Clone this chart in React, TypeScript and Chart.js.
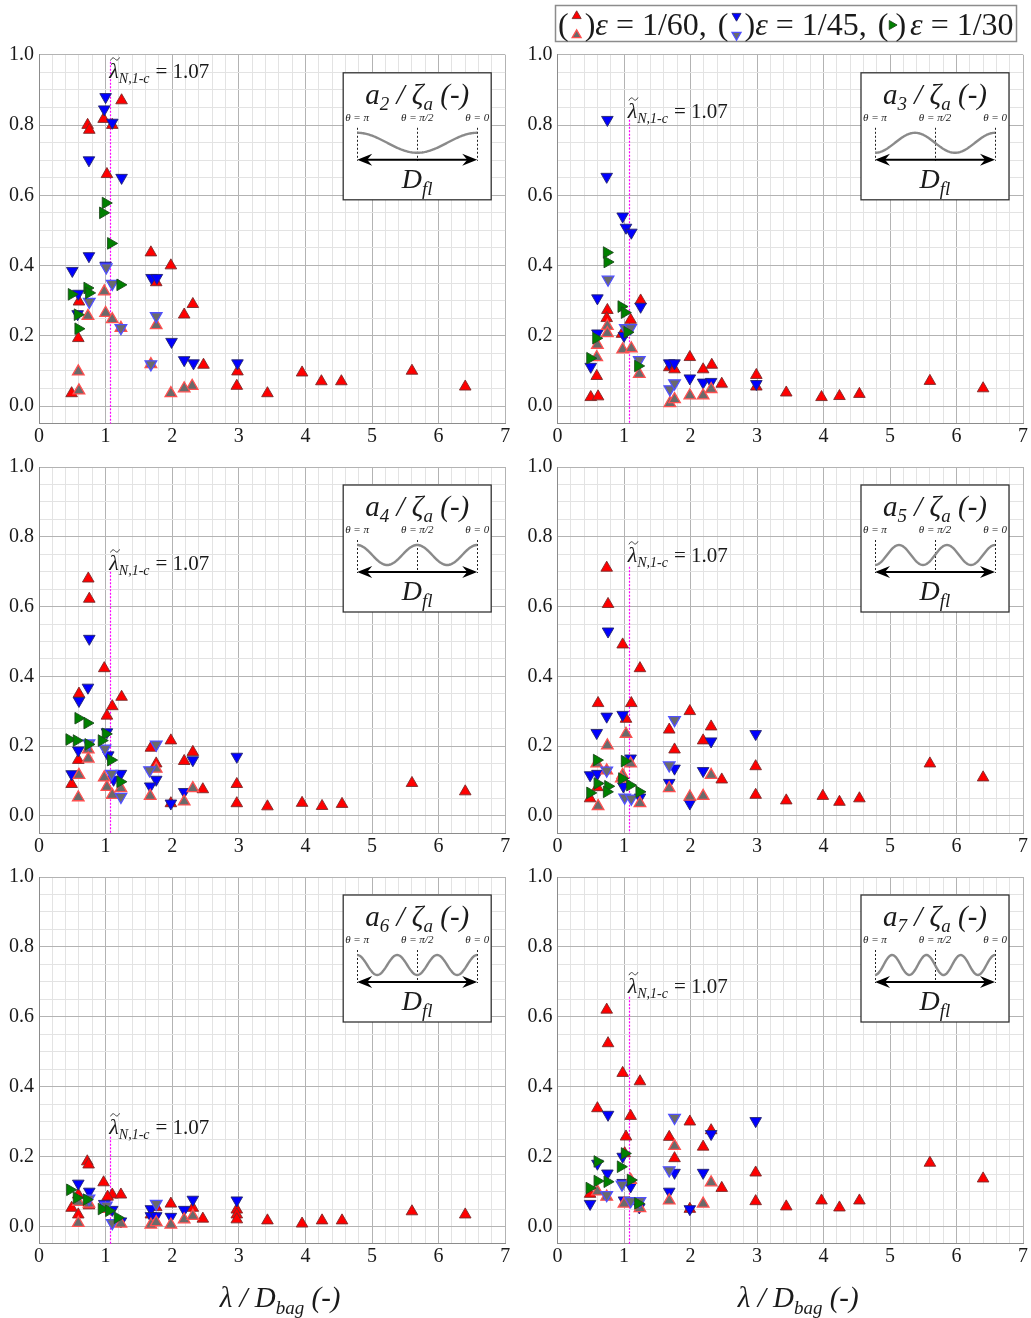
import { useEffect, useRef } from 'react';
import { Chart, registerables } from 'chart.js';
import { drawPoint } from 'chart.js/helpers';

Chart.register(...registerables);

type Pt = [number, number];

// ---------- axis values ----------
const xMin = 0;
const xMax = 7;
const yMin = -0.05;
const yMax = 1.0;
const xMinorStep = 0.2;
const yMinorStep = 0.05;
const yMajorStep = 0.2;
const lambdaCrit = 1.07;
const epsilonLabels = ['1/60', '1/45', '1/30'];

// ---------- a2 / zeta_a ----------
const a2Red: Pt[] = [[0.73, 0.8], [0.755, 0.786], [0.97, 0.817], [1.1, 0.8], [1.24, 0.87], [1.02, 0.66], [1.68, 0.437], [1.98, 0.4], [1.76, 0.352], [0.6, 0.297], [2.31, 0.29], [2.18, 0.26], [0.59, 0.193], [2.47, 0.117], [2.98, 0.098], [2.97, 0.057], [0.49, 0.036], [3.43, 0.036], [3.95, 0.095], [4.24, 0.07], [4.54, 0.07], [5.6, 0.1], [6.4, 0.055]];
const a2RedGrey: Pt[] = [[0.98, 0.326], [0.735, 0.256], [1.0, 0.265], [1.1, 0.247], [1.76, 0.23], [1.23, 0.222], [1.68, 0.119], [0.59, 0.098], [2.3, 0.057], [2.18, 0.05], [1.98, 0.036], [0.6, 0.044]];
const a2Blue: Pt[] = [[1.0, 0.88], [0.98, 0.845], [1.1, 0.807], [0.75, 0.7], [1.24, 0.65], [0.75, 0.427], [1.0, 0.4], [0.5, 0.385], [1.69, 0.365], [1.77, 0.365], [0.59, 0.32], [0.58, 0.262], [1.99, 0.183], [2.18, 0.131], [2.32, 0.122], [2.98, 0.122]];
const a2BlueGrey: Pt[] = [[1.01, 0.395], [1.1, 0.348], [0.755, 0.297], [1.76, 0.256], [1.23, 0.222], [1.68, 0.119]];
const a2Green: Pt[] = [[1.0, 0.578], [0.96, 0.55], [1.08, 0.463], [1.22, 0.345], [0.49, 0.318], [0.725, 0.336], [0.75, 0.322], [0.58, 0.26], [0.59, 0.22]];

// ---------- a3 / zeta_a ----------
const a3Red: Pt[] = [[1.25, 0.3], [0.75, 0.273], [0.74, 0.25], [1.1, 0.245], [0.97, 0.205], [0.59, 0.085], [1.68, 0.11], [1.76, 0.104], [1.99, 0.139], [2.19, 0.104], [2.32, 0.117], [2.47, 0.063], [0.5, 0.025], [0.61, 0.027], [2.99, 0.088], [2.99, 0.055], [3.44, 0.038], [3.97, 0.025], [4.24, 0.028], [4.54, 0.034], [5.6, 0.071], [6.4, 0.05]];
const a3RedGrey: Pt[] = [[0.75, 0.228], [0.75, 0.207], [0.6, 0.174], [0.98, 0.161], [1.11, 0.164], [0.59, 0.139], [1.23, 0.091], [1.69, 0.008], [1.76, 0.019], [1.99, 0.03], [2.19, 0.03], [2.31, 0.048]];
const a3Blue: Pt[] = [[0.75, 0.815], [0.74, 0.653], [0.98, 0.54], [1.03, 0.508], [1.11, 0.494], [0.6, 0.307], [1.25, 0.283], [0.6, 0.207], [1.0, 0.2], [0.5, 0.112], [1.68, 0.122], [1.76, 0.122], [1.99, 0.079], [2.19, 0.067], [2.31, 0.069], [2.99, 0.063]];
const a3BlueGrey: Pt[] = [[0.76, 0.36], [1.02, 0.222], [1.1, 0.222], [1.23, 0.131], [1.69, 0.048], [1.76, 0.065]];
const a3Green: Pt[] = [[0.74, 0.437], [0.75, 0.41], [0.96, 0.283], [1.01, 0.266], [1.05, 0.21], [0.58, 0.193], [0.49, 0.136], [1.21, 0.114]];

// ---------- a4 / zeta_a ----------
const a4Red: Pt[] = [[0.74, 0.68], [0.755, 0.622], [0.98, 0.423], [0.6, 0.35], [1.24, 0.341], [1.1, 0.314], [1.02, 0.287], [0.59, 0.16], [1.68, 0.195], [1.98, 0.216], [2.31, 0.183], [2.18, 0.157], [1.76, 0.15], [0.49, 0.091], [2.46, 0.076], [2.97, 0.091], [2.97, 0.036], [1.98, 0.036], [3.43, 0.027], [3.95, 0.037], [4.25, 0.028], [4.55, 0.034], [5.6, 0.094], [6.4, 0.07]];
const a4RedGrey: Pt[] = [[0.74, 0.19], [0.74, 0.164], [1.76, 0.135], [1.67, 0.057], [0.6, 0.117], [0.59, 0.053], [0.98, 0.11], [1.02, 0.083], [1.1, 0.06], [1.23, 0.079], [2.31, 0.079], [2.18, 0.041]];
const a4Blue: Pt[] = [[0.755, 0.508], [0.735, 0.368], [0.6, 0.33], [1.02, 0.24], [0.59, 0.188], [1.04, 0.174], [2.31, 0.16], [2.97, 0.17], [1.76, 0.104], [1.67, 0.085], [0.49, 0.12], [1.12, 0.104], [1.23, 0.121], [2.18, 0.069], [1.98, 0.036]];
const a4BlueGrey: Pt[] = [[0.75, 0.208], [0.99, 0.193], [1.76, 0.205], [1.66, 0.131], [1.09, 0.121], [1.23, 0.055]];
const a4Green: Pt[] = [[0.59, 0.28], [0.725, 0.266], [1.0, 0.235], [0.455, 0.219], [0.565, 0.216], [0.74, 0.205], [0.94, 0.216], [1.08, 0.16], [1.22, 0.098]];

// ---------- a5 / zeta_a ----------
const a5Red: Pt[] = [[0.74, 0.711], [0.76, 0.607], [0.98, 0.491], [1.24, 0.423], [0.61, 0.323], [1.11, 0.323], [1.03, 0.278], [1.68, 0.247], [1.99, 0.3], [2.31, 0.256], [2.19, 0.216], [1.76, 0.19], [2.98, 0.142], [2.47, 0.104], [0.6, 0.082], [0.49, 0.05], [2.98, 0.06], [3.44, 0.044], [3.99, 0.057], [4.24, 0.04], [4.54, 0.05], [5.6, 0.15], [6.4, 0.11]];
const a5RedGrey: Pt[] = [[1.03, 0.235], [0.75, 0.202], [1.1, 0.15], [0.59, 0.15], [0.74, 0.13], [0.98, 0.117], [0.96, 0.107], [1.24, 0.036], [0.61, 0.028], [1.68, 0.079], [1.99, 0.055], [2.19, 0.057], [2.31, 0.117]];
const a5Blue: Pt[] = [[0.76, 0.529], [0.74, 0.285], [0.98, 0.29], [0.59, 0.238], [2.31, 0.214], [2.98, 0.235], [1.1, 0.165], [1.76, 0.136], [2.19, 0.129], [0.49, 0.117], [0.6, 0.121], [0.99, 0.085], [1.24, 0.053], [1.68, 0.095], [1.99, 0.036]];
const a5BlueGrey: Pt[] = [[1.76, 0.275], [1.68, 0.145], [0.74, 0.13], [1.01, 0.053], [1.11, 0.05]];
const a5Green: Pt[] = [[0.59, 0.16], [1.01, 0.157], [0.97, 0.107], [1.09, 0.088], [0.6, 0.093], [0.76, 0.085], [0.74, 0.069], [0.49, 0.066], [1.23, 0.069]];

// ---------- a6 / zeta_a ----------
const a6Red: Pt[] = [[0.725, 0.186], [0.745, 0.177], [0.97, 0.126], [1.1, 0.091], [1.23, 0.091], [1.03, 0.085], [0.59, 0.091], [0.49, 0.053], [0.59, 0.034], [0.75, 0.06], [1.68, 0.034], [1.76, 0.055], [1.98, 0.065], [2.31, 0.053], [2.46, 0.022], [2.97, 0.048], [2.97, 0.034], [2.97, 0.02], [3.43, 0.017], [3.95, 0.008], [4.25, 0.017], [4.55, 0.017], [5.6, 0.043], [6.4, 0.034]];
const a6RedGrey: Pt[] = [[0.59, 0.07], [0.75, 0.065], [0.59, 0.01], [1.23, 0.008], [1.68, 0.005], [1.76, 0.012], [1.98, 0.005], [2.18, 0.02], [2.31, 0.03], [1.0, 0.05]];
const a6Blue: Pt[] = [[0.59, 0.123], [0.755, 0.1], [0.98, 0.065], [1.1, 0.048], [1.23, 0.015], [1.68, 0.05], [1.68, 0.03], [1.76, 0.03], [1.98, 0.028], [2.31, 0.077], [2.18, 0.048], [2.97, 0.075]];
const a6BlueGrey: Pt[] = [[1.01, 0.06], [1.1, 0.01], [1.76, 0.065], [0.75, 0.08]];
const a6Green: Pt[] = [[0.465, 0.105], [0.565, 0.082], [0.715, 0.077], [0.94, 0.05], [1.18, 0.025], [1.05, 0.045]];

// ---------- a7 / zeta_a ----------
const a7Red: Pt[] = [[0.74, 0.62], [0.76, 0.524], [0.98, 0.439], [1.24, 0.415], [0.6, 0.338], [1.1, 0.316], [1.99, 0.3], [2.31, 0.275], [1.03, 0.257], [1.68, 0.256], [2.19, 0.228], [1.76, 0.195], [2.98, 0.154], [2.47, 0.11], [0.49, 0.093], [2.98, 0.072], [1.99, 0.05], [3.44, 0.057], [3.97, 0.074], [4.24, 0.054], [4.54, 0.074], [5.6, 0.182], [6.4, 0.137], [1.01, 0.209]];
const a7RedGrey: Pt[] = [[1.76, 0.23], [1.1, 0.133], [2.31, 0.126], [0.6, 0.1], [1.68, 0.074], [2.19, 0.065], [0.74, 0.085], [1.0, 0.065], [1.24, 0.052]];
const a7Blue: Pt[] = [[0.76, 0.32], [2.98, 0.302], [2.31, 0.265], [0.98, 0.2], [0.6, 0.18], [1.76, 0.154], [2.19, 0.154], [0.75, 0.152], [0.98, 0.125], [1.1, 0.115], [0.49, 0.065], [1.68, 0.1], [1.0, 0.075], [1.23, 0.055], [1.99, 0.05]];
const a7BlueGrey: Pt[] = [[1.76, 0.311], [1.68, 0.161], [0.97, 0.12], [0.74, 0.09], [1.1, 0.073], [1.24, 0.073]];
const a7Green: Pt[] = [[1.01, 0.209], [0.6, 0.186], [0.95, 0.171], [1.1, 0.133], [0.48, 0.11], [0.6, 0.13], [0.75, 0.128], [1.21, 0.066]];

// where the critical-wavelength marker starts and where its label sits (in y units)
const modeNumbers = [2, 3, 4, 5, 6, 7];
const critLineTop = [0.98, 0.815, 0.7, 0.714, 0.257, 0.657];
const critLabelBase = [0.934, 0.82, 0.705, 0.728, 0.265, 0.669];

interface PanelSpec {
  idx: number;
  n: number;
  red: Pt[];
  redGrey: Pt[];
  blue: Pt[];
  blueGrey: Pt[];
  green: Pt[];
}

const PANELS: PanelSpec[] = [
  { idx: 0, n: modeNumbers[0], red: a2Red, redGrey: a2RedGrey, blue: a2Blue, blueGrey: a2BlueGrey, green: a2Green },
  { idx: 1, n: modeNumbers[1], red: a3Red, redGrey: a3RedGrey, blue: a3Blue, blueGrey: a3BlueGrey, green: a3Green },
  { idx: 2, n: modeNumbers[2], red: a4Red, redGrey: a4RedGrey, blue: a4Blue, blueGrey: a4BlueGrey, green: a4Green },
  { idx: 3, n: modeNumbers[3], red: a5Red, redGrey: a5RedGrey, blue: a5Blue, blueGrey: a5BlueGrey, green: a5Green },
  { idx: 4, n: modeNumbers[4], red: a6Red, redGrey: a6RedGrey, blue: a6Blue, blueGrey: a6BlueGrey, green: a6Green },
  { idx: 5, n: modeNumbers[5], red: a7Red, redGrey: a7RedGrey, blue: a7Blue, blueGrey: a7BlueGrey, green: a7Green },
];

// ---------- layout ----------
const COLS = [
  { canvasLeft: 0, width: 520, areaLeft: 39, areaRight: 505.2 },
  { canvasLeft: 520, width: 511, areaLeft: 557.5, areaRight: 1023.7 },
];
const ROWS = [
  { canvasTop: 0, height: 450, areaTop: 54.8 },
  { canvasTop: 450, height: 410, areaTop: 464.6 },
  { canvasTop: 860, height: 458, areaTop: 875.2 },
];
const AREA_H = 351.2 * (yMax - yMin);

const SERIF = '"Liberation Serif", "Times New Roman", Times, serif';
const TEXT = '#1a1a1a';

type StyleKey = 'red' | 'redGrey' | 'blue' | 'blueGrey' | 'green';
const MARK: Record<StyleKey, { rot: number; bg: string; bd: string; bw: number }> = {
  red: { rot: 0, bg: '#ff0000', bd: '#7a2a2a', bw: 0.9 },
  redGrey: { rot: 0, bg: '#6a6a6a', bd: '#ff5050', bw: 1.3 },
  blue: { rot: 180, bg: '#0000ff', bd: '#25256e', bw: 0.9 },
  blueGrey: { rot: 180, bg: '#6a6a6a', bd: '#5050ff', bw: 1.3 },
  green: { rot: 90, bg: '#008000', bd: '#1d4a1d', bw: 0.9 },
};
const MARK_R = 6.7;

// ---------- text helpers ----------
interface Run { t: string; size: number; italic?: boolean; dy?: number; gap?: number }
const fontOf = (r: Run) => `${r.italic ? 'italic ' : ''}${r.size}px ${SERIF}`;

function drawRuns(ctx: CanvasRenderingContext2D, runs: Run[], x: number, y: number, align: 'left' | 'center' | 'right') {
  const widths = runs.map((r) => {
    ctx.font = fontOf(r);
    return ctx.measureText(r.t).width + (r.gap || 0);
  });
  const total = widths.reduce((a, b) => a + b, 0);
  let cx = align === 'left' ? x : align === 'center' ? x - total / 2 : x - total;
  const starts: number[] = [];
  ctx.textBaseline = 'alphabetic';
  ctx.textAlign = 'left';
  runs.forEach((r, i) => {
    ctx.font = fontOf(r);
    starts.push(cx);
    ctx.fillText(r.t, cx, y + (r.dy || 0));
    cx += widths[i];
  });
  return { starts, widths, end: cx };
}

function drawTilde(ctx: CanvasRenderingContext2D, cx: number, cy: number, w: number) {
  ctx.beginPath();
  ctx.moveTo(cx - w / 2, cy + 1.5);
  ctx.bezierCurveTo(cx - w / 4, cy - 2.5, cx - w / 8, cy - 1, cx, cy);
  ctx.bezierCurveTo(cx + w / 8, cy + 1, cx + w / 4, cy + 2.5, cx + w / 2, cy - 1.5);
  ctx.stroke();
}

function marker(ctx: CanvasRenderingContext2D, key: StyleKey, x: number, y: number, r: number) {
  const m = MARK[key];
  ctx.save();
  ctx.fillStyle = m.bg;
  ctx.strokeStyle = m.bd;
  ctx.lineWidth = m.bw;
  drawPoint(ctx, { pointStyle: 'triangle', rotation: m.rot, radius: r, borderWidth: m.bw } as any, x, y);
  ctx.restore();
}

function drawInset(ctx: CanvasRenderingContext2D, n: number, areaRight: number, areaTop: number) {
  const bw = 148;
  const bh = 127;
  const bx = areaRight - bw - 14;
  const by = areaTop + 18;
  const cx = bx + bw / 2;
  const half = 60;
  ctx.save();
  ctx.fillStyle = '#ffffff';
  ctx.fillRect(bx, by, bw, bh);
  ctx.strokeStyle = '#333';
  ctx.lineWidth = 1.3;
  ctx.strokeRect(bx, by, bw, bh);

  ctx.fillStyle = TEXT;
  drawRuns(ctx, [
    { t: 'a', size: 29, italic: true },
    { t: String(n), size: 19, italic: true, dy: 6 },
    { t: ' / ', size: 29, italic: true },
    { t: 'ζ', size: 29, italic: true },
    { t: 'a', size: 19, italic: true, dy: 6 },
    { t: ' (-)', size: 29, italic: true },
  ], cx, by + 31, 'center');

  ctx.fillStyle = '#222';
  drawRuns(ctx, [{ t: 'θ = π', size: 11, italic: true }], bx + 2, by + 48, 'left');
  drawRuns(ctx, [{ t: 'θ = π/2', size: 11, italic: true }], cx, by + 48, 'center');
  drawRuns(ctx, [{ t: 'θ = 0', size: 11, italic: true }], bx + bw - 2, by + 48, 'right');

  // dotted reference positions
  ctx.strokeStyle = '#222';
  ctx.lineWidth = 1;
  ctx.setLineDash([2, 2]);
  [cx - half, cx, cx + half].forEach((x) => {
    ctx.beginPath();
    ctx.moveTo(Math.round(x) + 0.5, by + 55);
    ctx.lineTo(Math.round(x) + 0.5, by + 88);
    ctx.stroke();
  });
  ctx.setLineDash([]);

  // mode shape cos(n·θ), θ running from π (left) to 0 (right)
  ctx.strokeStyle = '#8a8a8a';
  ctx.lineWidth = 2.4;
  ctx.beginPath();
  for (let i = 0; i <= 120; i++) {
    const t = i / 120;
    const th = Math.PI * (1 - t);
    const x = cx - half + 2 * half * t;
    const y = by + 70 - 10 * Math.cos(n * th);
    if (i === 0) ctx.moveTo(x, y);
    else ctx.lineTo(x, y);
  }
  ctx.stroke();

  // double arrow
  const ay = by + 87;
  ctx.strokeStyle = '#000';
  ctx.lineWidth = 2;
  ctx.beginPath();
  ctx.moveTo(cx - half + 6, ay);
  ctx.lineTo(cx + half - 6, ay);
  ctx.stroke();
  ctx.fillStyle = '#000';
  const head = (tip: number, dir: number) => {
    ctx.beginPath();
    ctx.moveTo(tip, ay);
    ctx.lineTo(tip + dir * 15, ay - 6);
    ctx.lineTo(tip + dir * 10, ay);
    ctx.lineTo(tip + dir * 15, ay + 6);
    ctx.closePath();
    ctx.fill();
  };
  head(cx - half, 1);
  head(cx + half, -1);

  ctx.fillStyle = TEXT;
  drawRuns(ctx, [
    { t: 'D', size: 28, italic: true },
    { t: 'fl', size: 19, italic: true, dy: 7 },
  ], cx, by + 115, 'center');
  ctx.restore();
}

function drawLegend(ctx: CanvasRenderingContext2D, offX: number, offY: number) {
  const base = 35 - offY;
  ctx.save();
  ctx.strokeStyle = '#8c8c8c';
  ctx.lineWidth = 1.5;
  ctx.strokeRect(555.5 - offX, 5.5 - offY, 461, 36);
  ctx.fillStyle = TEXT;
  let x = 558 - offX;
  const size = 32;
  const put = (t: string, italic = false) => {
    const r = drawRuns(ctx, [{ t, size, italic }], x, base, 'left');
    x = r.end;
  };
  const groups: { keys: StyleKey[]; label: string; tail: string }[] = [
    { keys: ['red', 'redGrey'], label: epsilonLabels[0], tail: ', ' },
    { keys: ['blue', 'blueGrey'], label: epsilonLabels[1], tail: ', ' },
    { keys: ['green'], label: epsilonLabels[2], tail: '' },
  ];
  groups.forEach((g) => {
    put('(');
    const mw = g.keys.length === 2 ? 16 : 7;
    const mx = x + mw / 2;
    if (g.keys.length === 2) {
      marker(ctx, g.keys[0], mx, 16 - offY, 5.2);
      marker(ctx, g.keys[1], mx, 35 - offY, 5.2);
    } else {
      marker(ctx, g.keys[0], mx, 25 - offY, 5.2);
    }
    x += mw;
    put(')');
    if (g.keys.length === 1) x += 4;
    put('ε', true);
    put(' = ' + g.label + g.tail);
    x += 3;
  });
  ctx.restore();
}

function overlayPlugin(spec: PanelSpec) {
  const col = COLS[spec.idx % 2];
  const row = ROWS[Math.floor(spec.idx / 2)];
  return {
    id: 'panelOverlay',
    beforeDatasetsDraw(chart: any) {
      const { ctx, chartArea, scales } = chart;
      const x = Math.round(scales.x.getPixelForValue(lambdaCrit)) + 0.5;
      const yTop = scales.y.getPixelForValue(critLineTop[spec.idx]);
      ctx.save();
      ctx.strokeStyle = '#ff00ff';
      ctx.lineWidth = 1.2;
      ctx.setLineDash([2, 1.5]);
      ctx.beginPath();
      ctx.moveTo(x, yTop);
      ctx.lineTo(x, chartArea.bottom);
      ctx.stroke();
      ctx.restore();
    },
    afterDraw(chart: any) {
      const { ctx, chartArea, scales } = chart;
      // critical wavelength label
      const lx = scales.x.getPixelForValue(lambdaCrit) - 1;
      const ly = scales.y.getPixelForValue(critLabelBase[spec.idx]);
      ctx.save();
      ctx.fillStyle = TEXT;
      const r = drawRuns(ctx, [
        { t: 'λ', size: 22, italic: true },
        { t: 'N,1-c', size: 14, italic: true, dy: 5, gap: 6 },
        { t: '= ' + lambdaCrit.toFixed(2), size: 21 },
      ], lx, ly, 'left');
      ctx.strokeStyle = '#333';
      ctx.lineWidth = 1;
      drawTilde(ctx, r.starts[0] + r.widths[0] / 2 + 1, ly - 19, 9);
      ctx.restore();

      drawInset(ctx, spec.n, chartArea.right, chartArea.top);

      if (spec.idx === 1) drawLegend(ctx, col.canvasLeft, row.canvasTop);

      if (spec.idx >= 4) {
        ctx.save();
        ctx.fillStyle = TEXT;
        const cx = (chartArea.left + chartArea.right) / 2 + 8;
        drawRuns(ctx, [
          { t: 'λ / D', size: 29, italic: true },
          { t: 'bag', size: 19, italic: true, dy: 7 },
          { t: ' (-)', size: 29, italic: true },
        ], cx, 1307 - row.canvasTop, 'center');
        ctx.restore();
      }
    },
  };
}

const isMultiple = (v: number, step: number) => Math.abs(v / step - Math.round(v / step)) < 1e-6;

function Panel({ spec }: { spec: PanelSpec }) {
  const ref = useRef<HTMLCanvasElement | null>(null);
  const col = COLS[spec.idx % 2];
  const row = ROWS[Math.floor(spec.idx / 2)];

  useEffect(() => {
    if (!ref.current) return;
    const order: { key: StyleKey; data: Pt[] }[] = [
      { key: 'green', data: spec.green },
      { key: 'blueGrey', data: spec.blueGrey },
      { key: 'redGrey', data: spec.redGrey },
      { key: 'blue', data: spec.blue },
      { key: 'red', data: spec.red },
    ];
    const areaBottom = row.areaTop + AREA_H;
    const chart = new Chart(ref.current, {
      type: 'scatter',
      data: {
        datasets: order.map((s) => ({
          label: s.key,
          data: s.data.map(([x, y]) => ({ x, y })),
          pointStyle: 'triangle',
          pointRotation: MARK[s.key].rot,
          pointRadius: MARK_R,
          pointHoverRadius: MARK_R,
          pointBackgroundColor: MARK[s.key].bg,
          pointBorderColor: MARK[s.key].bd,
          pointBorderWidth: MARK[s.key].bw,
          showLine: false,
        })),
      },
      options: {
        animation: false,
        responsive: false,
        events: [],
        layout: {
          padding: {
            top: row.areaTop - row.canvasTop,
            right: col.canvasLeft + col.width - col.areaRight,
            left: 0,
            bottom: 0,
          },
        },
        plugins: { legend: { display: false }, tooltip: { enabled: false } },
        scales: {
          x: {
            type: 'linear',
            min: xMin,
            max: xMax,
            afterFit: (s: any) => {
              s.height = row.canvasTop + row.height - areaBottom;
            },
            ticks: {
              stepSize: xMinorStep,
              autoSkip: false,
              maxRotation: 0,
              padding: 1,
              color: TEXT,
              font: { family: SERIF, size: 20 },
              callback: (v: any) => (isMultiple(Number(v), 1) ? String(Math.round(Number(v))) : ''),
            },
            grid: {
              drawTicks: false,
              lineWidth: 1,
              color: (c: any) => (isMultiple(c.tick.value, 1) ? '#b3b3b3' : '#e3e3e3'),
            },
            border: { color: '#8c8c8c', width: 1 },
          },
          y: {
            type: 'linear',
            min: yMin,
            max: yMax,
            afterFit: (s: any) => {
              s.width = col.areaLeft - col.canvasLeft;
            },
            ticks: {
              stepSize: yMinorStep,
              autoSkip: false,
              padding: 5,
              color: TEXT,
              font: { family: SERIF, size: 20 },
              callback: (v: any) => {
                const n = Number(v);
                return n > -1e-6 && isMultiple(n, yMajorStep) ? n.toFixed(1) : '';
              },
            },
            grid: {
              drawTicks: false,
              lineWidth: 1,
              color: (c: any) => (c.tick.value > -1e-6 && isMultiple(c.tick.value, yMajorStep) ? '#b3b3b3' : '#e3e3e3'),
            },
            border: { color: '#8c8c8c', width: 1 },
          },
        },
      } as any,
      plugins: [overlayPlugin(spec)],
    });
    return () => chart.destroy();
  }, [spec]);

  return (
    <canvas
      ref={ref}
      width={col.width}
      height={row.height}
      style={{ position: 'absolute', left: col.canvasLeft, top: row.canvasTop, width: col.width, height: row.height }}
    />
  );
}

export default function App() {
  return (
    <div style={{ position: 'absolute', left: 0, top: 0, width: 1031, height: 1318, background: '#ffffff', overflow: 'hidden' }}>
      {PANELS.map((p) => (
        <Panel key={p.idx} spec={p} />
      ))}
    </div>
  );
}
